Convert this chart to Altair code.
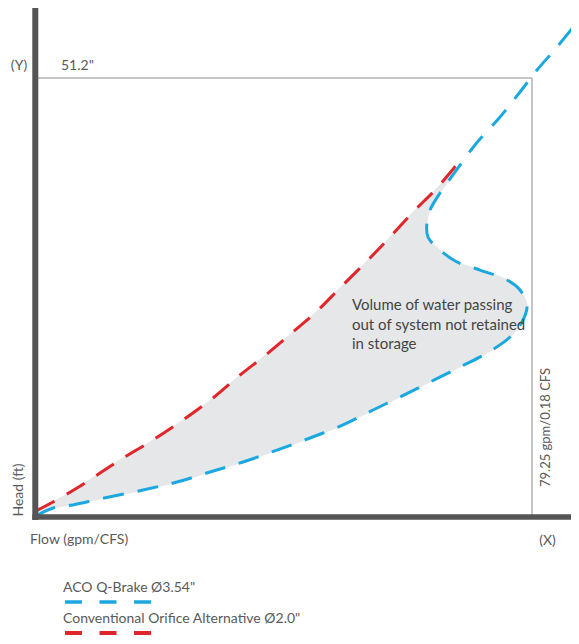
import altair as alt
import pandas as pd

# Flow (gpm) and head (inches)
red_flow = [0, 2.72, 6.55, 10.23, 13.90, 18.69, 23.49, 28.28, 32.60, 36.91, 41.06,
            44.58, 48.57, 53.37, 56.56, 60.24, 64.07, 68.23]
red_head = [0.6, 1.64, 3.27, 5.03, 6.78, 8.88, 11.22, 13.79, 16.48, 18.94, 21.51,
            23.73, 26.65, 30.16, 32.61, 35.53, 38.34, 41.96]

blue_flow = [0, 2.72, 5.91, 10.23, 17.10, 22.53, 27.80, 33.07, 38.51, 43.78, 49.05,
             53.85, 58.16, 62.95, 67.75, 72.06, 75.74, 77.81, 78.45, 77.33, 75.26,
             70.94, 67.27, 64.55, 62.63, 62.47, 62.95, 64.55, 67.43, 70.14, 74.14,
             77.33, 80.05, 83.25, 86.12]
blue_head = [0, 0.94, 1.29, 1.99, 3.04, 3.97, 5.14, 6.31, 7.71, 9.12, 10.64,
             12.39, 13.91, 15.66, 17.42, 19.05, 20.92, 22.91, 24.66, 26.42, 27.59,
             28.75, 29.69, 31.09, 32.61, 34.37, 35.77, 37.76, 40.68, 43.37, 46.64,
             49.56, 52.13, 54.82, 57.39]

ref_flow = 79.25
ref_head = 51.2
red_shade_count = 17   # red points that bound the shaded region
blue_shade_count = 29  # blue points that bound the shaded region

area_text = ["Volume of water passing", "out of system not retained", "in storage"]
legend_labels = ['ACO Q-Brake Ø3.54"', 'Conventional Orifice Alternative Ø2.0"']

BLUE = "#1ba8e0"
RED = "#e1262b"
AXIS = "#555555"
TXT = "#5a5a5a"
SHADE = "#e6e7e8"
FONT = "Lato, sans-serif"

red = pd.DataFrame({"flow": red_flow, "head": red_head, "i": list(range(len(red_flow)))})
blue = pd.DataFrame({"flow": blue_flow, "head": blue_head, "i": list(range(len(blue_flow)))})

# closed outline of the shaded region: up the red curve, back down the blue curve
poly_flow = red_flow[:red_shade_count] + blue_flow[:blue_shade_count][::-1]
poly_head = red_head[:red_shade_count] + blue_head[:blue_shade_count][::-1]
poly = pd.DataFrame({"flow": poly_flow, "head": poly_head, "i": list(range(len(poly_flow)))})

PW, PH = 535, 508
xs = alt.Scale(domain=[0, 85.48], nice=False, zero=False)
ys = alt.Scale(domain=[0, 59.38], nice=False, zero=False)


def xenc():
    return alt.X("flow:Q", scale=xs, axis=None)


def yenc():
    return alt.Y("head:Q", scale=ys, axis=None)


shade_area = alt.Chart(poly).mark_line(
    fill=SHADE, stroke=SHADE, strokeWidth=1, interpolate="catmull-rom"
).encode(x=xenc(), y=yenc(), order="i:Q")

ref_df = pd.DataFrame({"flow": [0, ref_flow], "flow2": [ref_flow, ref_flow],
                       "head": [ref_head, 0], "head2": [ref_head, ref_head]})
ref_lines = alt.Chart(ref_df).mark_rule(color="#b3b3b3", strokeWidth=1.5).encode(
    x=xenc(), x2="flow2:Q", y=yenc(), y2="head2:Q")

red_line = alt.Chart(red).mark_line(
    color=RED, strokeWidth=3, strokeDash=[21, 14], interpolate="catmull-rom"
).encode(x=xenc(), y=yenc(), order="i:Q")

blue_line = alt.Chart(blue).mark_line(
    color=BLUE, strokeWidth=3, strokeDash=[21, 14], interpolate="catmull-rom"
).encode(x=xenc(), y=yenc(), order="i:Q")

left_axis = alt.Chart().mark_rule(color=AXIS, strokeWidth=6).encode(
    x=alt.value(-0.7), y=alt.value(-1), y2=alt.value(512))
bottom_axis = alt.Chart().mark_rule(color=AXIS, strokeWidth=5.5).encode(
    x=alt.value(-3.7), x2=alt.value(PW), y=alt.value(509))


def label(text, x, y, size=14, align="left", angle=0, color=TXT, baseline="alphabetic"):
    return alt.Chart().mark_text(
        text=text, align=align, baseline=baseline, angle=angle, fontSize=size,
        font=FONT, color=color
    ).encode(x=alt.value(x), y=alt.value(y))


texts = [
    label("(Y)", -17, 62, align="center"),
    label('51.2"', 25, 62),
    label("Head (ft)", -13, 482, align="center", angle=270),
    label("Flow (gpm/CFS)", -6, 536),
    label("(X)", 511.5, 537, align="center"),
    label("79.25 gpm/0.18 CFS", 514, 479, size=13, angle=270),
    label(area_text[0], 316, 302, size=15, color="#444444"),
    label(area_text[1], 316, 322, size=15, color="#444444"),
    label(area_text[2], 316, 341, size=15, color="#444444"),
    label(legend_labels[0], 27, 584),
    label(legend_labels[1], 27, 615),
]

legend_blue = alt.Chart().mark_rule(color=BLUE, strokeWidth=3.5, strokeDash=[17, 17.5]).encode(
    x=alt.value(29), x2=alt.value(115), y=alt.value(594))
legend_red = alt.Chart().mark_rule(color=RED, strokeWidth=4, strokeDash=[17, 17.5]).encode(
    x=alt.value(29), x2=alt.value(115), y=alt.value(625))

chart = alt.layer(
    shade_area, ref_lines, red_line, blue_line, left_axis, bottom_axis,
    legend_blue, legend_red, *texts
).properties(
    width=PW, height=PH,
    autosize=alt.AutoSizeParams(type="none"),
    padding={"left": 28, "top": 0, "right": 0, "bottom": 120},
).configure_view(stroke=None)

chart.save("out.html", embed_options={"renderer": "svg", "actions": False})
